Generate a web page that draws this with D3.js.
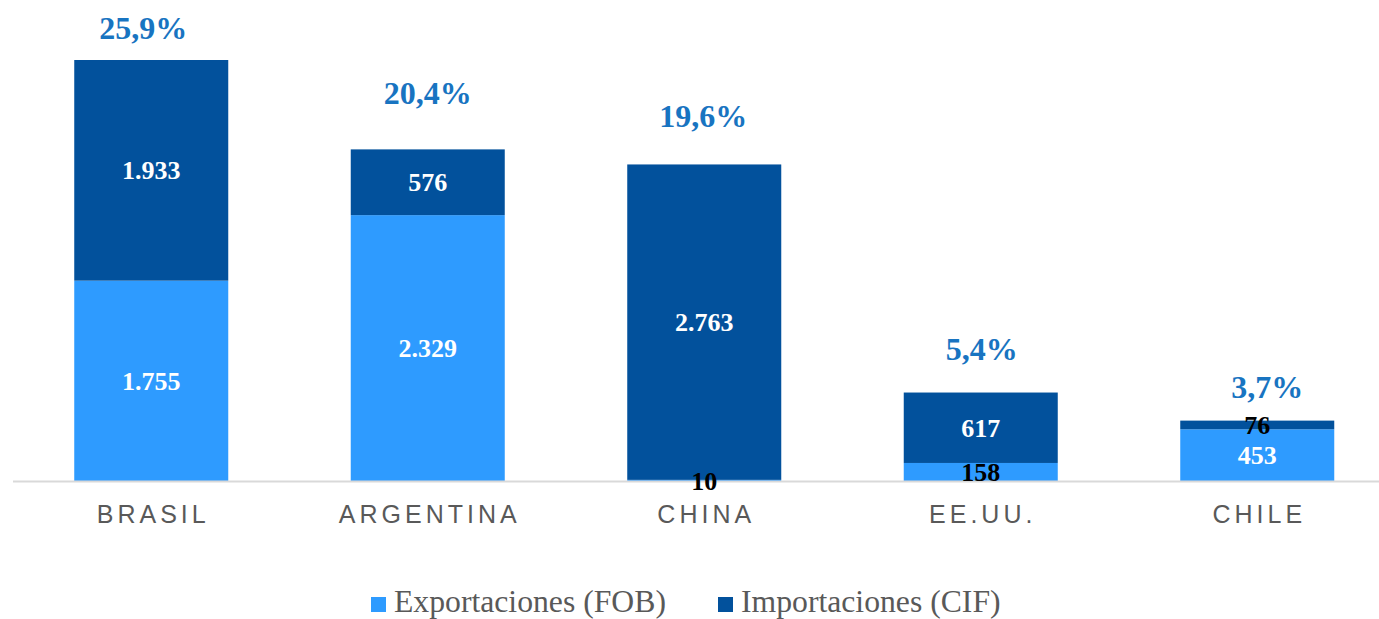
<!DOCTYPE html>
<html>
<head>
<meta charset="utf-8">
<script src="https://cdn.jsdelivr.net/npm/d3@7"></script>
<style>
  body { margin: 0; background: #fff; }
  svg { display: block; }
</style>
</head>
<body>
<div id="chart"></div>
<script>
////////////////////////////////////////////////////////////////////////
// Data

let countries = ["BRASIL", "ARGENTINA", "CHINA", "EE.UU.", "CHILE"];
let exportaciones = [1755, 2329, 10, 158, 453];
let importaciones = [1933, 576, 2763, 617, 76];
let shares = ["25,9%", "20,4%", "19,6%", "5,4%", "3,7%"];
let seriesNames = ["Exportaciones (FOB)", "Importaciones (CIF)"];

// Layout bits (not data): where each share label sits relative to its bar top
let shareLift = [32, 57, 49, 44, 34];
let shareShift = [-8, 0, -1, 1, 10];

////////////////////////////////////////////////////////////////////////
// Setup

let width = 1379, height = 619;
let colors = ["#2e9bff", "#02519c"];
let baseline = 481;
let serif = "'Liberation Serif', 'Times New Roman', serif";

let svg = d3.select("#chart").append("svg")
  .attr("width", width)
  .attr("height", height);

let xScale = d3.scaleBand().domain(countries).range([13, 1395.5]).paddingInner(0.443).paddingOuter(0.2215);
let yScale = d3.scaleLinear().domain([0, 3688]).range([baseline, 60]);

let rows = countries.map((c, i) => ({
  country: c, exp: exportaciones[i], imp: importaciones[i],
  share: shares[i], lift: shareLift[i], shift: shareShift[i]
}));
let stacked = d3.stack().keys(["exp", "imp"])(rows);

function center(name) {
  return xScale(name) + xScale.bandwidth() / 2;
}

// Bars
stacked.forEach(function (layer, li) {
  svg.append("g").selectAll("rect")
    .data(layer)
    .enter()
    .append("rect")
    .attr("x", d => xScale(d.data.country))
    .attr("width", xScale.bandwidth())
    .attr("y", d => yScale(d[1]))
    .attr("height", d => yScale(d[0]) - yScale(d[1]))
    .attr("fill", colors[li]);
});

// Axis line
svg.append("line")
  .attr("x1", 13).attr("x2", width)
  .attr("y1", baseline + 0.5).attr("y2", baseline + 0.5)
  .attr("stroke", "#d9d9d9")
  .attr("stroke-width", 2);

// Value labels (black when the segment is too thin)
stacked.forEach(function (layer) {
  svg.append("g").selectAll("text")
    .data(layer)
    .enter()
    .append("text")
    .attr("x", d => center(d.data.country))
    .attr("y", d => (yScale(d[0]) + yScale(d[1])) / 2)
    .attr("dy", "0.35em")
    .attr("text-anchor", "middle")
    .attr("font-family", serif)
    .attr("font-weight", "bold")
    .attr("font-size", 26)
    .attr("fill", d => (yScale(d[0]) - yScale(d[1]) < 30 ? "#000" : "#fff"))
    .text(d => d3.format(",")(d[1] - d[0]).replace(/,/g, "."));
});

// Share labels above bars
svg.append("g").selectAll("text")
  .data(rows)
  .enter()
  .append("text")
  .attr("x", d => center(d.country) + d.shift)
  .attr("y", d => yScale(d.exp + d.imp) - d.lift)
  .attr("dy", "0.35em")
  .attr("text-anchor", "middle")
  .attr("font-family", serif)
  .attr("font-weight", "bold")
  .attr("font-size", 32)
  .attr("fill", "#1874c1")
  .text(d => d.share);

// Category labels
let spacing = 4;
svg.append("g").selectAll("text")
  .data(countries)
  .enter()
  .append("text")
  .attr("x", d => center(d) + spacing / 2)
  .attr("y", 514)
  .attr("dy", "0.35em")
  .attr("text-anchor", "middle")
  .attr("font-family", "'Liberation Sans', Arial, sans-serif")
  .attr("font-size", 25)
  .attr("letter-spacing", spacing)
  .attr("fill", "#595959")
  .text(d => d);

// Legend
let legendX = [371, 718];
let legend = svg.append("g").selectAll("g")
  .data(seriesNames)
  .enter()
  .append("g")
  .attr("transform", (d, i) => "translate(" + legendX[i] + ",604)");

legend.append("rect")
  .attr("x", 0).attr("y", -7)
  .attr("width", 15).attr("height", 15)
  .attr("fill", (d, i) => colors[i]);

legend.append("text")
  .attr("x", 23)
  .attr("y", 8)
  .attr("font-family", serif)
  .attr("font-size", 31.7)
  .attr("fill", "#595959")
  .text(d => d);
</script>
</body>
</html>
